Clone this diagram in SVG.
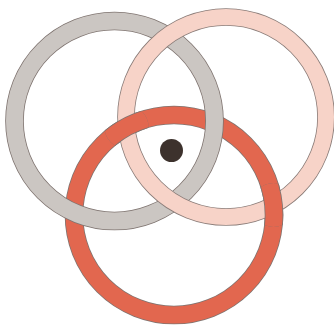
<svg xmlns="http://www.w3.org/2000/svg" width="334" height="326" viewBox="0 0 334 326">
  <style>
    .edge { fill: none; stroke: #7f7470; stroke-width: 18.6; }
    .gray { fill: none; stroke: #cbc6c2; stroke-width: 17; }
    .pink { fill: none; stroke: #f7d3c8; stroke-width: 16; }
    .pinkedge { fill: none; stroke: #8a7c78; stroke-width: 17.6; }
    .red { fill: none; stroke: #e2674f; stroke-width: 17; }
  </style>
  <defs>
    <clipPath id="redOver">
      <circle cx="126.5" cy="127" r="22"/>
      <circle cx="273.5" cy="205" r="22"/>
    </clipPath>
  </defs>
  <rect width="334" height="326" fill="#ffffff"/>
  <g id="ring-red">
    <circle class="edge" cx="174" cy="215" r="100"/>
    <circle class="red" cx="174" cy="215" r="100"/>
  </g>
  <g id="ring-gray">
    <circle class="edge" cx="114.5" cy="121" r="100"/>
    <circle class="gray" cx="114.5" cy="121" r="100"/>
  </g>
  <g id="ring-pink">
    <circle class="pinkedge" cx="226" cy="117" r="100"/>
    <circle class="pink" cx="226" cy="117" r="100"/>
  </g>
  <g id="ring-red-over" clip-path="url(#redOver)">
    <circle class="edge" cx="174" cy="215" r="100"/>
    <circle class="red" cx="174" cy="215" r="100"/>
  </g>
  <g id="dot">
    <circle cx="171.5" cy="150.5" r="11.5" fill="#3d322d"/>
  </g>
</svg>
